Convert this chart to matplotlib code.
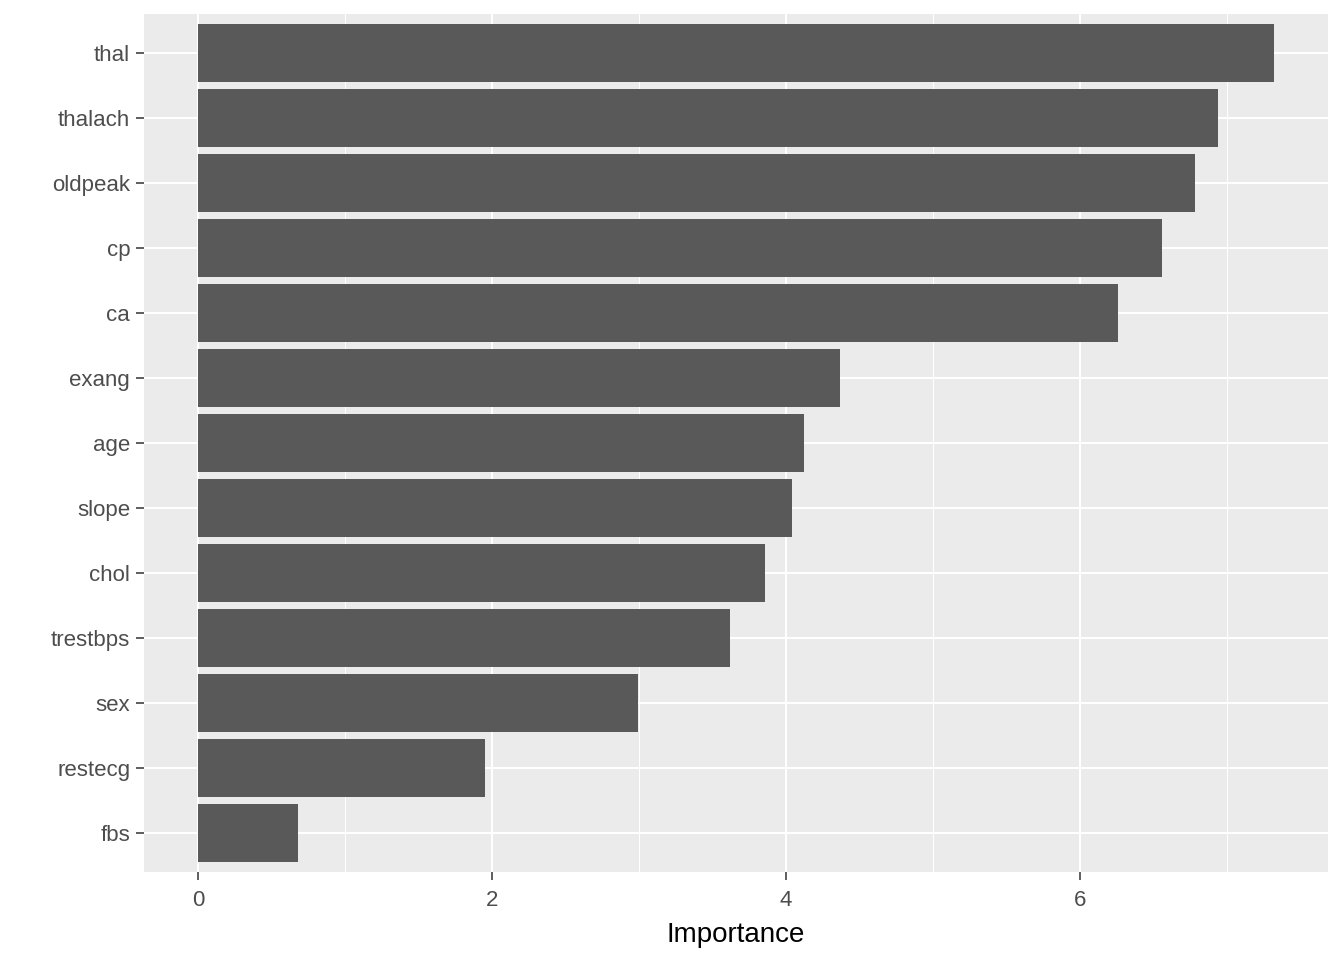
import matplotlib.pyplot as plt
from matplotlib.ticker import MultipleLocator

plt.rcParams['font.family'] = ['Liberation Sans', 'DejaVu Sans']

features = ['thal', 'thalach', 'oldpeak', 'cp', 'ca', 'exang', 'age', 'slope',
            'chol', 'trestbps', 'sex', 'restecg', 'fbs']
importance = [7.32, 6.94, 6.78, 6.56, 6.26, 4.37, 4.12, 4.04, 3.86, 3.62, 2.99, 1.95, 0.68]

fig = plt.figure(figsize=(13.44, 9.6), dpi=100)
ax = fig.add_axes([0.1072, 0.0917, 0.8809, 0.8937])
ax.set_facecolor('#EBEBEB')

ypos = list(range(len(features), 0, -1))
ax.barh(ypos, importance, height=0.9, color='#595959', zorder=3)

span = max(importance)
ax.set_xlim(-0.05 * span, span * 1.05)
ax.set_ylim(0.4, len(features) + 0.6)

ax.xaxis.set_major_locator(MultipleLocator(2))
ax.xaxis.set_minor_locator(MultipleLocator(1))
ax.set_yticks(ypos)
ax.set_yticklabels(features)

ax.grid(which='major', axis='both', color='white', linewidth=1.5, zorder=1)
ax.grid(which='minor', axis='x', color='white', linewidth=0.75, zorder=1)
ax.tick_params(which='minor', length=0)
ax.tick_params(which='major', length=6, width=1.1, color='#333333',
               labelsize=16, labelcolor='#4D4D4D', pad=4)
ax.tick_params(axis='x', pad=7)

for s in ax.spines.values():
    s.set_visible(False)

ax.set_xlabel('Importance', fontsize=20, color='black', labelpad=8)

fig.savefig('out.png', dpi=100)
